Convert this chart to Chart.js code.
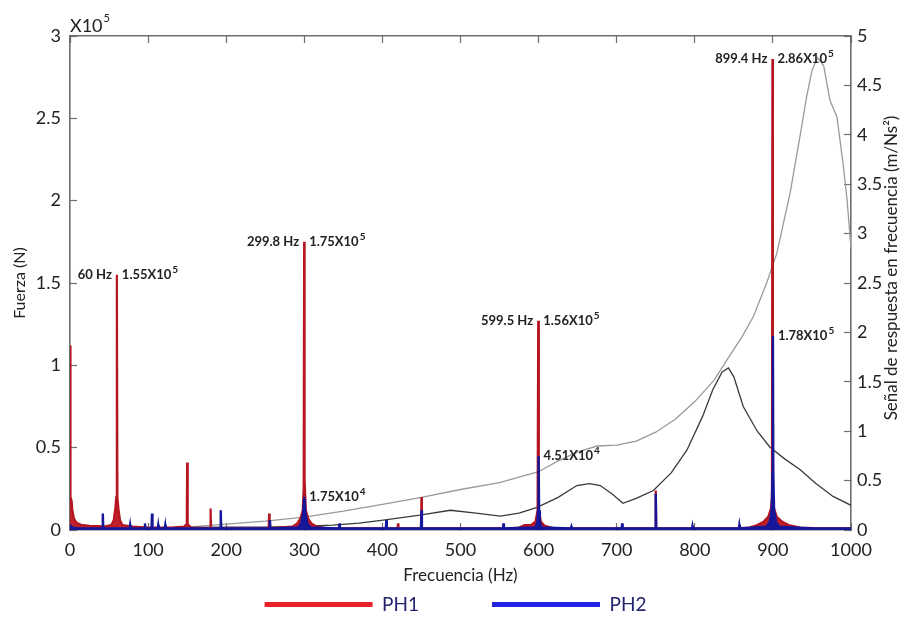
<!DOCTYPE html>
<html><head><meta charset="utf-8">
<script src="https://cdn.jsdelivr.net/npm/chart.js@4.4.1/dist/chart.umd.min.js"></script>
<style>html,body{margin:0;padding:0;background:#fff;}#wrap{width:911px;height:617px;}</style>
</head><body><div id="wrap"><canvas id="c" width="911" height="617"></canvas></div>
<script>
// ---------- data ----------
const xTickValues = [0,100,200,300,400,500,600,700,800,900,1000];
const xTickLabels = ['0','100','200','300','400','500','600','700','800','900','1000'];
const yLeftTickValues = [0,0.5,1,1.5,2,2.5,3];
const yLeftTickLabels = ['0','0.5','1','1.5','2','2.5','3'];
const yRightTickValues = [0,0.5,1,1.5,2,2.5,3,3.5,4,4.5,5];
const yRightTickLabels = ['0','0.5','1','1.5','2','2.5','3','3.5','4','4.5','5'];

// PH1 force spectrum (x10^5 N)
const ph1Freq = [
  0,0.6,2,3,5,8,14,25,45,53,
  56,58,59.3,60,60.7,62,64,67,80,100,
  130,146,149,149.6,150,150.4,151,155,179.4,180,
  180.6,230,254.4,255,255.6,285,291,295,298,299.2,
  299.8,300.4,302,305,309,316,330,419.4,420,420.6,
  449.4,450,450.6,560,575,582,590,596,598.7,599.5,
  600.3,603,608,620,749.4,750,750.6,850,870,880,
  888,894,897.5,898.8,899.4,900,901.5,905,912,920,
  935,960,1000];
const ph1Force = [
  1.12,0.2,0.18,0.12,0.07,0.045,0.032,0.025,0.022,0.03,
  0.06,0.13,0.2,1.55,0.2,0.13,0.06,0.03,0.02,0.015,
  0.015,0.02,0.035,0.1,0.41,0.1,0.035,0.015,0.012,0.13,
  0.012,0.01,0.01,0.1,0.01,0.02,0.04,0.07,0.12,0.25,
  1.75,0.3,0.12,0.07,0.04,0.02,0.01,0.01,0.04,0.01,
  0.01,0.2,0.01,0.01,0.015,0.03,0.03,0.05,0.12,1.27,
  0.12,0.05,0.025,0.01,0.01,0.24,0.01,0.01,0.015,0.03,
  0.05,0.08,0.13,0.2,2.86,0.2,0.13,0.08,0.05,0.03,
  0.015,0.01,0.01];

// PH2 force spectrum (x10^5 N)
const ph2Freq = [
  0,3,10,41.4,42,42.6,76.4,77,77.6,95.4,
  96,96.6,104.4,105,105.6,112.4,113,113.6,121.4,122,
  122.6,192.4,193,193.6,255.4,256,256.6,292,296,298.5,
  300,301.5,304,308,344.4,345,345.6,404.4,405,405.6,
  449.4,450,450.6,554.4,555,555.6,596,598.5,599.4,600,
  600.6,601.5,604,641.4,642,642.6,706.4,707,707.6,749.4,
  750,750.6,796.4,797,797.6,856.4,857,857.6,892,896,
  898.5,899.5,900,900.5,901.5,904,908,950,1000];
const ph2Force = [
  0.03,0.015,0.01,0.01,0.1,0.01,0.01,0.03,0.01,0.01,
  0.04,0.01,0.01,0.1,0.01,0.01,0.03,0.01,0.01,0.03,
  0.01,0.01,0.12,0.01,0.01,0.06,0.01,0.015,0.04,0.1,
  0.2,0.1,0.04,0.015,0.01,0.04,0.01,0.01,0.06,0.01,
  0.01,0.12,0.01,0.01,0.04,0.01,0.015,0.05,0.12,0.45,
  0.12,0.05,0.015,0.01,0.02,0.01,0.01,0.04,0.01,0.01,
  0.22,0.01,0.01,0.025,0.01,0.01,0.03,0.01,0.02,0.05,
  0.12,0.35,1.18,0.35,0.12,0.05,0.02,0.01,0.01];

// Frequency response signals (m/Ns^2)
const frf1Freq = [150,200,250,300,350,400,450,500,550,600,625,650,675,700,725,750,775,800,825,841,860,875,892,905,922,935,943,950,957,965,973,982,990,995,1000];
const frf1Val  = [0.03,0.06,0.09,0.13,0.19,0.26,0.33,0.41,0.48,0.59,0.7,0.79,0.85,0.86,0.9,0.99,1.12,1.3,1.52,1.72,1.95,2.16,2.5,2.8,3.41,4.0,4.38,4.65,4.78,4.7,4.35,4.18,3.7,3.34,2.85];
const frf2Freq = [0,100,200,250,300,337,370,401,448,487,520,551,575,598,625,649,665,679,695,708,725,747,770,790,810,823,835,843,850,862,880,896,915,935,955,977,1000];
const frf2Val  = [0.02,0.02,0.03,0.03,0.04,0.05,0.07,0.1,0.15,0.2,0.17,0.14,0.17,0.23,0.33,0.45,0.47,0.45,0.36,0.27,0.32,0.4,0.58,0.81,1.15,1.42,1.6,1.64,1.55,1.25,1.0,0.84,0.72,0.61,0.47,0.34,0.25];

// Peak annotations
const freqLabelText  = ['60 Hz','299.8 Hz','599.5 Hz','899.4 Hz'];
const freqLabelFreq  = [60,299.8,599.5,899.4];
const freqLabelForce = [1.55,1.75,1.27,2.86];
const ampLabelMant  = ['1.55','1.75','1.75','1.56','4.51','2.86','1.78'];
const ampLabelExp   = ['5','5','4','5','4','5','5'];
const ampLabelFreq  = [60,299.8,300,599.5,600,899.4,900];
const ampLabelForce = [1.55,1.75,0.2,1.27,0.45,2.86,1.18];

const legendNames = ['PH1','PH2'];

// ---------- chart ----------
const pts = (xs, ys) => xs.map((x,i)=>({x, y: ys[i]}));
const FONT = 'Lato, "Open Sans", sans-serif';
const AX = '#6e6e6e';
const TXT = '#222';

const annotatePlugin = {
  id: 'annot',
  afterDraw(chart) {
    const ctx = chart.ctx, xs = chart.scales.x, ys = chart.scales.y, yr = chart.scales.yR;
    const ca = chart.chartArea;
    ctx.save();
    ctx.fillStyle = TXT;
    ctx.textBaseline = 'middle';
    ctx.font = 'bold 13px ' + FONT;
    ctx.textAlign = 'right';
    freqLabelText.forEach((t,i) => {
      ctx.fillText(t, xs.getPixelForValue(freqLabelFreq[i]) - 5, ys.getPixelForValue(freqLabelForce[i]));
    });
    ctx.textAlign = 'left';
    ampLabelMant.forEach((m,i) => {
      const x = xs.getPixelForValue(ampLabelFreq[i]) + 5;
      const y = ys.getPixelForValue(ampLabelForce[i]);
      ctx.font = 'bold 13px ' + FONT;
      const s = m + 'X10';
      ctx.fillText(s, x, y);
      const w = ctx.measureText(s).width;
      ctx.font = 'bold 10px ' + FONT;
      ctx.fillText(ampLabelExp[i], x + w + 1, y - 5);
    });
    // exponent of left axis
    ctx.textBaseline = 'alphabetic';
    ctx.font = '18px ' + FONT;
    ctx.fillText('X10', ca.left, ca.top - 4);
    const w2 = ctx.measureText('X10').width;
    ctx.font = '11px ' + FONT;
    ctx.fillText('5', ca.left + w2 + 1, ca.top - 14);
    // right axis title (reads bottom to top)
    ctx.translate(yr.right - 19, (ca.top + ca.bottom) / 2 - 15);
    ctx.rotate(-Math.PI / 2);
    ctx.textAlign = 'center';
    ctx.textBaseline = 'middle';
    ctx.font = '17px ' + FONT;
    ctx.fillText('Señal de respuesta en frecuencia (m/Ns²)', 0, 0);
    ctx.restore();
  }
};

const gridOpts = { drawOnChartArea: false, drawTicks: true, tickLength: -7, color: AX, tickWidth: 1.2 };
const borderOpts = { display: true, color: AX, width: 1.6 };
const setTicks = (vals) => (s) => { s.ticks = vals.map(v => ({ value: v })); };
const labelFrom = (vals, labels) => (v) => { const i = vals.indexOf(v); return i >= 0 ? labels[i] : ''; };

new Chart(document.getElementById('c'), {
  type: 'line',
  data: {
    datasets: [
      { label: legendNames[1], data: pts(ph2Freq, ph2Force), yAxisID: 'y', borderColor: '#16169a', backgroundColor: '#16169a', borderWidth: 2.4, fill: 'origin', pointRadius: 0, tension: 0 },
      { label: legendNames[0], data: pts(ph1Freq, ph1Force), yAxisID: 'y', borderColor: '#b51520', backgroundColor: '#c0202a', borderWidth: 2.2, fill: 'origin', pointRadius: 0, tension: 0 },
      { label: 'frf2', data: pts(frf2Freq, frf2Val), yAxisID: 'yR', borderColor: '#3a3a3a', borderWidth: 1.3, fill: false, pointRadius: 0, tension: 0 },
      { label: 'frf1', data: pts(frf1Freq, frf1Val), yAxisID: 'yR', borderColor: '#9a9a9a', borderWidth: 1.3, fill: false, pointRadius: 0, tension: 0 }
    ]
  },
  options: {
    responsive: false, animation: false, devicePixelRatio: 1,
    layout: { padding: 0 },
    plugins: {
      tooltip: { enabled: false },
      legend: {
        position: 'bottom', align: 'center', maxHeight: 22,
        labels: {
          boxWidth: 108, boxHeight: 5, padding: 0, color: '#23236e',
          font: { family: FONT, size: 19 },
          generateLabels: () => [
            { text: legendNames[0] + ' '.repeat(15), fillStyle: '#e8212b', strokeStyle: '#e8212b', lineWidth: 0, fontColor: '#23236e', datasetIndex: 1 },
            { text: legendNames[1], fillStyle: '#2323e6', strokeStyle: '#2323e6', lineWidth: 0, fontColor: '#23236e', datasetIndex: 0 }
          ]
        }
      }
    },
    scales: {
      x: {
        type: 'linear', position: 'bottom', min: 0, max: 1000,
        afterBuildTicks: setTicks(xTickValues),
        afterFit: s => { s.height = 65; },
        ticks: { padding: 16, color: TXT, font: { family: FONT, size: 18 }, callback: labelFrom(xTickValues, xTickLabels), maxRotation: 0, autoSkip: false },
        grid: gridOpts, border: borderOpts,
        title: { display: true, text: 'Frecuencia (Hz)', color: TXT, font: { family: FONT, size: 17 }, padding: { top: 0, bottom: 9 } }
      },
      xTop: {
        type: 'linear', position: 'top', min: 0, max: 1000,
        afterBuildTicks: setTicks(xTickValues),
        afterFit: s => { s.height = 36; },
        ticks: { display: false },
        grid: gridOpts, border: borderOpts
      },
      y: {
        type: 'linear', position: 'left', min: 0, max: 3,
        afterBuildTicks: setTicks(yLeftTickValues),
        afterFit: s => { s.width = 70; },
        ticks: { padding: 16, color: TXT, font: { family: FONT, size: 18 }, callback: labelFrom(yLeftTickValues, yLeftTickLabels), autoSkip: false },
        grid: gridOpts, border: borderOpts,
        title: { display: true, text: 'Fuerza (N)', color: TXT, font: { family: FONT, size: 16 }, padding: { top: 10, bottom: 0 } }
      },
      yR: {
        type: 'linear', position: 'right', min: 0, max: 5,
        afterBuildTicks: setTicks(yRightTickValues),
        afterFit: s => { s.width = 60; },
        ticks: { padding: 13, color: TXT, font: { family: FONT, size: 18 }, callback: labelFrom(yRightTickValues, yRightTickLabels), autoSkip: false },
        grid: gridOpts, border: borderOpts
      }
    }
  },
  plugins: [annotatePlugin]
});
</script>
</body></html>
